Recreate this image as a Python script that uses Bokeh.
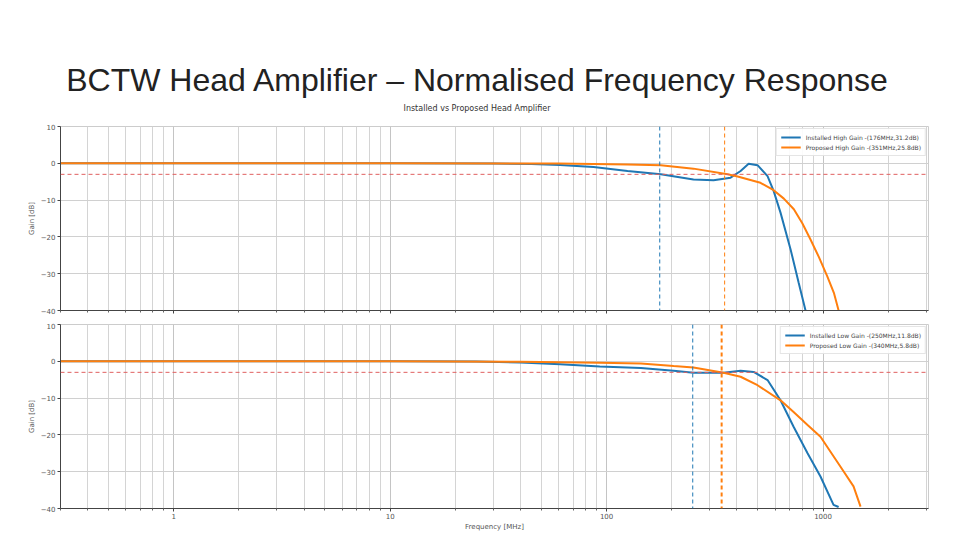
from bokeh.plotting import figure
from bokeh.models import Range1d, FixedTicker, Span, Legend, LegendItem, Div, NumeralTickFormatter, CustomJSTickFormatter
from bokeh.layouts import column
from bokeh.embed import file_html
from bokeh.resources import INLINE

slide_title = "BCTW Head Amplifier \u2013 Normalised Frequency Response"
chart_title = "Installed vs Proposed Head Amplifier"
x_label = "Frequency [MHz]"
y_label = "Gain [dB]"
x_major_ticks = [1, 10, 100, 1000]
y_ticks = [-40, -30, -20, -10, 0, 10]
threshold_db = -3

# Top panel: high gain
hi_inst_label = "Installed High Gain -(176MHz,31.2dB)"
hi_inst_cut = 176
hi_inst_freq = [0.3, 10, 30, 45, 61, 87, 125, 178, 252, 312, 374, 416, 453, 498, 554, 591, 636, 708, 771, 830]
hi_inst_gain = [0.0, 0.0, -0.05, -0.2, -0.45, -1.0, -2.1, -3.0, -4.4, -4.6, -3.9, -2.1, -0.1, -0.5, -3.5, -7.5, -13.4, -23.4, -32.4, -40.0]

hi_prop_label = "Proposed High Gain -(351MHz,25.8dB)"
hi_prop_cut = 351
hi_prop_freq = [0.3, 10, 60, 125, 178, 252, 362, 403, 514, 591, 659, 733, 802, 875, 957, 1046, 1122, 1180]
hi_prop_gain = [0.0, 0.0, -0.05, -0.3, -0.5, -1.45, -3.0, -3.6, -5.3, -7.3, -9.6, -12.5, -16.3, -20.7, -25.5, -30.7, -35.2, -40.0]

# Bottom panel: low gain
lo_inst_label = "Installed Low Gain -(250MHz,11.8dB)"
lo_inst_cut = 250
lo_inst_freq = [0.3, 10, 25, 40, 61, 93, 144, 204, 252, 347, 416, 478, 554, 636, 731, 848, 973, 1118, 1180]
lo_inst_gain = [0.0, 0.0, -0.05, -0.3, -0.8, -1.4, -1.8, -2.6, -3.1, -3.1, -2.6, -2.9, -5.1, -10.6, -17.8, -25.0, -31.3, -39.0, -39.6]

lo_prop_label = "Proposed Low Gain -(340MHz,5.8dB)"
lo_prop_cut = 340
lo_prop_freq = [0.3, 10, 40, 93, 144, 204, 252, 347, 416, 498, 636, 731, 848, 973, 1202, 1383, 1490]
lo_prop_gain = [0.0, 0.0, -0.1, -0.4, -0.6, -1.3, -1.7, -3.1, -4.2, -6.5, -10.6, -13.8, -17.3, -20.5, -28.6, -34.0, -39.5]

BLUE = "#1f77b4"
ORANGE = "#ff7f0e"
FONT = "DejaVu Sans"

x_minor_ticks = [m * 10.0 ** e for e in range(-1, 4) for m in range(2, 10)
                 if 0.3 <= m * 10.0 ** e <= 3070]
x_range = Range1d(0.3, 3070)


def make_fig(height, top, bottom, show_x_labels):
    p = figure(width=944, height=height, x_axis_type="log",
               x_range=x_range, y_range=Range1d(-40, 10),
               output_backend="svg", toolbar_location=None,
               min_border_left=60, min_border_right=16,
               min_border_top=top, min_border_bottom=bottom)
    p.outline_line_color = "#cccccc"
    ticker = FixedTicker(ticks=x_major_ticks, minor_ticks=x_minor_ticks)
    p.xaxis.ticker = ticker
    p.xgrid.ticker = ticker
    p.xgrid.grid_line_color = "#c4c4c4"
    p.xgrid.minor_grid_line_color = "#d4d4d4"
    p.yaxis.ticker = FixedTicker(ticks=y_ticks)
    p.ygrid.grid_line_color = "#d0d0d0"
    for ax in (p.xaxis[0], p.yaxis[0]):
        ax.axis_line_color = "#444444"
        ax.major_tick_line_color = "#444444"
        ax.major_tick_out = 3
        ax.major_tick_in = 0
        ax.major_label_text_font = FONT
        ax.major_label_text_font_size = "7px"
        ax.major_label_text_color = "#555555"
        ax.axis_label_text_font = FONT
        ax.axis_label_text_font_size = "7px"
        ax.axis_label_text_font_style = "normal"
        ax.axis_label_text_color = "#555555"
        ax.major_label_standoff = 2
        ax.axis_label_standoff = 2
    p.xaxis.minor_tick_line_color = "#666666"
    p.xaxis.minor_tick_out = 2
    p.xaxis.minor_tick_in = 0
    p.yaxis.minor_tick_line_color = None
    p.yaxis.axis_label = y_label
    if show_x_labels:
        p.xaxis.axis_label = x_label
        p.xaxis.formatter = NumeralTickFormatter(format="0")
        p.xaxis.major_label_standoff = 1
        p.xaxis.axis_label_standoff = 1
    else:
        p.xaxis.formatter = CustomJSTickFormatter(code="return ''")
        p.xaxis.major_label_standoff = 0
        p.xaxis.major_label_text_font_size = "1px"
    p.add_layout(Span(location=threshold_db, dimension="width", line_color="#e06060",
                      line_dash="4 3", line_width=1))
    return p


def add_curves(p, f1, g1, lab1, c1, f2, g2, lab2, c2, orange_vline_width):
    p.add_layout(Span(location=c1, dimension="height", line_color=BLUE,
                      line_dash="4 3", line_width=1))
    p.add_layout(Span(location=c2, dimension="height", line_color=ORANGE,
                      line_dash="4 3", line_width=orange_vline_width))
    r1 = p.line(f1, g1, line_color=BLUE, line_width=2)
    r2 = p.line(f2, g2, line_color=ORANGE, line_width=2)
    legend = Legend(items=[LegendItem(label=lab1, renderers=[r1]),
                           LegendItem(label=lab2, renderers=[r2])],
                    location="top_right")
    legend.label_text_font = FONT
    legend.label_text_font_size = "6px"
    legend.label_height = 8
    legend.glyph_height = 8
    legend.glyph_width = 20
    legend.spacing = 2
    legend.padding = 4
    legend.margin = 2
    legend.border_line_color = "#cccccc"
    legend.background_fill_alpha = 0.9
    p.add_layout(legend)


header = Div(text='<div style="font-family: \'Liberation Sans\'; font-size: 32px; color: #222; '
                  'text-align: center; width: 930px; padding-top: 57px; padding-left: 14px; '
                  'line-height: 36px; white-space: nowrap;">' + slide_title + '</div>'
                  '<div style="font-family: \'DejaVu Sans\'; font-size: 8px; color: #333; '
                  'text-align: center; width: 930px; padding-left: 14px; margin-top: 6px; '
                  'line-height: 10px; white-space: nowrap;">' + chart_title + '</div>',
             width=944, height=110)

p1 = make_fig(202, 6, 12, False)
add_curves(p1, hi_inst_freq, hi_inst_gain, hi_inst_label, hi_inst_cut,
           hi_prop_freq, hi_prop_gain, hi_prop_label, hi_prop_cut, 1)

p2 = make_fig(212, 2, 26, True)
add_curves(p2, lo_inst_freq, lo_inst_gain, lo_inst_label, lo_inst_cut,
           lo_prop_freq, lo_prop_gain, lo_prop_label, lo_prop_cut, 2)

layout = column(header, p1, p2, spacing=0)
open("out.html", "w").write(file_html(layout, INLINE))
